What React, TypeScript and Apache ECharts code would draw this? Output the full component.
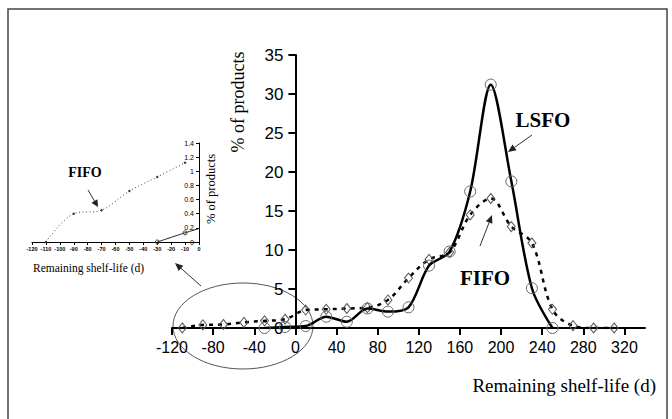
import React, { useEffect, useRef } from "react";
import * as echarts from "echarts";

// ---- data ----
const LSFO_DAYS = [-30, -10, 10, 30, 50, 70, 90, 110, 130, 150, 170, 190, 210, 230, 250];
const LSFO_PCT = [0, 0.13, 0.25, 1.45, 0.8, 2.5, 2.1, 2.65, 8, 9.8, 17.5, 31.2, 18.8, 5.1, 0];
const FIFO_DAYS = [-110, -90, -70, -50, -30, -10, 10, 30, 50, 70, 90, 110, 130, 150, 170, 190, 210, 230, 250, 270, 290, 310];
const FIFO_PCT = [0, 0.4, 0.45, 0.72, 0.92, 1.12, 2.3, 2.4, 2.5, 2.6, 3.6, 6.4, 8.8, 9.7, 14.5, 16.6, 13, 10.9, 2.4, 0.3, 0, 0];
const X_TICKS = [-120, -80, -40, 0, 40, 80, 120, 160, 200, 240, 280, 320];

const X_MIN = -120;
const X_MAX = 340;
const GRID_LEFT = 172;
const GRID_RIGHT = 27;
const CHART_W = 672;

const SERIF = '"Liberation Serif", "Times New Roman", serif';
const SANS = '"Liberation Sans", Arial, sans-serif';

function arrow(x1: number, y1: number, x2: number, y2: number, len = 8, half = 3.5, lw = 1) {
  const dx = x2 - x1, dy = y2 - y1;
  const d = Math.sqrt(dx * dx + dy * dy);
  const ux = dx / d, uy = dy / d;
  const bx = x2 - ux * len, by = y2 - uy * len;
  const px = -uy * half, py = ux * half;
  return [
    { type: "line", shape: { x1, y1, x2: bx, y2: by }, style: { stroke: "#333", lineWidth: lw } },
    {
      type: "polygon",
      shape: { points: [[x2, y2], [bx + px, by + py], [bx - px, by - py]] },
      style: { fill: "#222" },
    },
  ];
}

export default function App() {
  const ref = useRef<HTMLDivElement>(null);
  useEffect(() => {
    document.body.style.margin = "0";
    const chart = echarts.init(ref.current!, null, { renderer: "svg" });
    const lsfo = LSFO_DAYS.map((d, i) => [d, LSFO_PCT[i]]);
    const fifo = FIFO_DAYS.map((d, i) => [d, FIFO_PCT[i]]);
    const insetFifo = fifo.filter((p) => p[0] <= 0);
    const insetLsfo = lsfo.filter((p) => p[0] <= 10);
    const gridW = CHART_W - GRID_LEFT - GRID_RIGHT;
    const yAxisOffset = -((0 - X_MIN) / (X_MAX - X_MIN)) * gridW;

    chart.setOption({
      animation: false,
      backgroundColor: "#fff",
      grid: [
        { left: GRID_LEFT, right: GRID_RIGHT, top: 55, bottom: 91, containLabel: false },
        { left: 32, right: 473, top: 143, bottom: 177, containLabel: false },
      ],
      xAxis: [
        {
          type: "value",
          gridIndex: 0,
          min: X_MIN,
          max: X_MAX,
          interval: 40,
          splitLine: { show: false },
          axisLine: { onZero: false, lineStyle: { color: "#000", width: 2 } },
          axisTick: { show: true, customValues: X_TICKS, length: 7, lineStyle: { color: "#000", width: 2 } },
          axisLabel: {
            customValues: X_TICKS,
            color: "#000",
            fontFamily: SANS,
            fontSize: 16,
            margin: 11,
          },
        },
        {
          type: "value",
          gridIndex: 1,
          min: -120,
          max: 0,
          interval: 10,
          splitLine: { show: false },
          axisLine: { onZero: false, lineStyle: { color: "#000", width: 1 } },
          axisTick: { length: 3, lineStyle: { color: "#000", width: 1 } },
          axisLabel: {
            color: "#000",
            fontFamily: SANS,
            fontSize: 5.5,
            fontWeight: "bold",
            margin: 4,
          },
        },
      ],
      yAxis: [
        {
          type: "value",
          gridIndex: 0,
          position: "left",
          offset: yAxisOffset,
          min: 0,
          max: 35,
          interval: 5,
          splitLine: { show: false },
          axisLine: { onZero: false, lineStyle: { color: "#000", width: 2 } },
          axisTick: { length: 7, lineStyle: { color: "#000", width: 2 } },
          axisLabel: { color: "#000", fontFamily: SANS, fontSize: 17, margin: 12 },
        },
        {
          type: "value",
          gridIndex: 1,
          position: "right",
          min: 0,
          max: 1.4,
          interval: 0.2,
          splitLine: { show: false },
          axisLine: { onZero: false, lineStyle: { color: "#000", width: 1 } },
          axisTick: { inside: true, length: 3, lineStyle: { color: "#000", width: 1 } },
          axisLabel: {
            inside: true,
            color: "#000",
            fontFamily: SANS,
            fontSize: 7,
            margin: 5,
          },
        },
      ],
      series: [
        {
          name: "FIFO",
          type: "line",
          xAxisIndex: 0,
          yAxisIndex: 0,
          data: fifo,
          smooth: 0.35,
          symbol: "diamond",
          symbolSize: [8, 10],
          itemStyle: { color: "rgba(0,0,0,0)", borderColor: "#555", borderWidth: 1 },
          lineStyle: { color: "#000", width: 2.5, type: [4, 5] },
          z: 3,
        },
        {
          name: "LSFO",
          type: "line",
          xAxisIndex: 0,
          yAxisIndex: 0,
          data: lsfo,
          smooth: 0.3,
          symbol: "circle",
          symbolSize: 11,
          itemStyle: { color: "rgba(0,0,0,0)", borderColor: "#666", borderWidth: 1 },
          lineStyle: { color: "#000", width: 2.5 },
          z: 4,
        },
        {
          name: "FIFO inset",
          type: "line",
          xAxisIndex: 1,
          yAxisIndex: 1,
          data: insetFifo,
          smooth: 0.35,
          symbol: "diamond",
          symbolSize: 3,
          itemStyle: { color: "#333" },
          lineStyle: { color: "#444", width: 1, type: [1, 2.5] },
        },
        {
          name: "LSFO inset",
          type: "line",
          xAxisIndex: 1,
          yAxisIndex: 1,
          data: insetLsfo,
          clip: true,
          smooth: 0.2,
          symbol: "circle",
          symbolSize: 4,
          itemStyle: { color: "rgba(0,0,0,0)", borderColor: "#333", borderWidth: 1 },
          lineStyle: { color: "#222", width: 1 },
        },
      ],
      graphic: [
        {
          type: "rect",
          shape: { x: 8, y: 9, width: 659, height: 430 },
          style: { fill: "none", stroke: "#444", lineWidth: 1.5 },
          silent: true,
        },
        {
          type: "ellipse",
          shape: { cx: 243, cy: 326, rx: 70, ry: 43 },
          style: { fill: "none", stroke: "#555", lineWidth: 1 },
          silent: true,
        },
        ...arrow(201, 286, 175, 263),
        ...arrow(532, 135, 508, 152),
        ...arrow(480, 246, 492, 215),
        ...arrow(88, 190, 98, 207, 7, 3.5, 1),
        {
          type: "text",
          x: 238,
          y: 102,
          rotation: Math.PI / 2,
          style: {
            text: "% of products",
            font: `18px ${SERIF}`,
            fill: "#000",
            align: "center",
            verticalAlign: "middle",
          },
        },
        {
          type: "text",
          x: 656,
          y: 385,
          style: {
            text: "Remaining shelf-life (d)",
            font: `19px ${SERIF}`,
            fill: "#000",
            align: "right",
            verticalAlign: "middle",
          },
        },
        {
          type: "text",
          x: 543,
          y: 120,
          style: { text: "LSFO", font: `bold 21px ${SERIF}`, fill: "#000", align: "center", verticalAlign: "middle" },
        },
        {
          type: "text",
          x: 485,
          y: 278,
          style: { text: "FIFO", font: `bold 21px ${SERIF}`, fill: "#000", align: "center", verticalAlign: "middle" },
        },
        {
          type: "text",
          x: 85,
          y: 172,
          style: { text: "FIFO", font: `bold 14px ${SERIF}`, fill: "#000", align: "center", verticalAlign: "middle" },
        },
        {
          type: "text",
          x: 211,
          y: 189,
          rotation: Math.PI / 2,
          style: {
            text: "% of products",
            font: `12.5px ${SERIF}`,
            fill: "#000",
            align: "center",
            verticalAlign: "middle",
          },
        },
        {
          type: "text",
          x: 33,
          y: 268,
          style: {
            text: "Remaining shelf-life (d)",
            font: `11.5px ${SERIF}`,
            fill: "#000",
            align: "left",
            verticalAlign: "middle",
          },
        },
      ],
    });
    return () => chart.dispose();
  }, []);
  return <div ref={ref} style={{ width: 672, height: 419 }} />;
}
